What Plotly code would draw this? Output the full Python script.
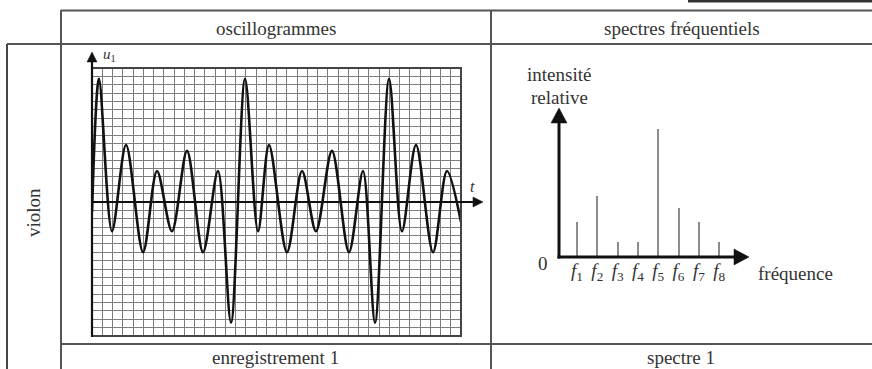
import plotly.graph_objects as go

W, H = 872, 369

# ---- oscillogram of u1 (in grid divisions: 36 across, 32 high) ----
t_div = [0.0, 0.68, 1.95, 3.32, 4.98, 6.34, 7.80, 9.27, 10.83, 12.29, 13.56,
         14.93, 16.20, 17.27, 19.02, 20.49, 21.85, 23.41, 25.07, 26.44, 27.61,
         28.98, 30.24, 31.61, 33.27, 34.63, 36.0]
u_div = [-1.2, 14.7, -3.5, 6.8, -6.0, 3.7, -3.5, 6.1, -6.0, 3.7, -14.4,
         14.7, -3.5, 6.8, -6.0, 3.7, -3.5, 6.1, -6.0, 3.7, -14.4,
         14.7, -3.5, 6.8, -6.0, 3.7, -2.4]

# ---- frequency spectrum ----
harmonic_pos = [1, 2, 3, 4, 5, 6, 7, 8]
harmonic_labels = ["<i>f</i><sub>%d</sub>" % k for k in harmonic_pos]
intensity = [0.27, 0.48, 0.12, 0.12, 1.0, 0.38, 0.27, 0.12]

SERIF = "Liberation Serif"
TXT = "#333333"
INK = "#111111"


def px(x):
    return x / W


def py(y):
    return 1 - y / H


fig = go.Figure()

fig.add_trace(go.Scatter(
    x=t_div, y=u_div, mode="lines",
    line=dict(color=INK, width=2.6, shape="spline", smoothing=0.9),
    xaxis="x", yaxis="y", hoverinfo="skip", showlegend=False))

fig.add_trace(go.Bar(
    x=harmonic_pos, y=intensity, width=0.1,
    marker=dict(color="#8c8c8c", line=dict(width=0)),
    xaxis="x2", yaxis="y2", hoverinfo="skip", showlegend=False))

grid_axis = dict(showgrid=True, gridcolor="#7e7e7e", gridwidth=1.4,
                 dtick=1, tick0=0, showticklabels=False, ticks="",
                 zeroline=False, showline=False, fixedrange=True)

fig.update_layout(
    width=W, height=H, margin=dict(l=0, r=0, t=0, b=0),
    paper_bgcolor="white", plot_bgcolor="white",
    xaxis=dict(domain=[px(92), px(461)], range=[0, 36], **grid_axis),
    yaxis=dict(domain=[py(336), py(68)], range=[-16, 16], **grid_axis),
    xaxis2=dict(domain=[px(559), px(747)], range=[0.113, 9.37],
                anchor="y2", showgrid=False, zeroline=False, showline=False,
                tickvals=harmonic_pos, ticktext=harmonic_labels, ticks="",
                tickfont=dict(family=SERIF, size=19, color=TXT),
                fixedrange=True),
    yaxis2=dict(domain=[py(257), py(110)], range=[0, 1.148],
                anchor="x2", showgrid=False, zeroline=False, showline=False,
                showticklabels=False, ticks="", fixedrange=True),
    bargap=0,
)

shapes = []


def seg(x0, y0, x1, y1, color="#555555", width=2):
    shapes.append(dict(type="line", xref="paper", yref="paper",
                       x0=px(x0), x1=px(x1), y0=py(y0), y1=py(y1),
                       line=dict(color=color, width=width)))


def head(x_tip, y_tip, direction, length, half):
    # filled triangular arrow head pointing "up" or "right"
    if direction == "up":
        pts = [(x_tip, y_tip), (x_tip - half, y_tip + length),
               (x_tip + half, y_tip + length)]
    else:
        pts = [(x_tip, y_tip), (x_tip - length, y_tip - half),
               (x_tip - length, y_tip + half)]
    path = "M " + " L ".join("%.5f,%.5f" % (px(a), py(b)) for a, b in pts) + " Z"
    shapes.append(dict(type="path", xref="paper", yref="paper", path=path,
                       fillcolor=INK, line=dict(color=INK, width=0.5)))


# table rules
seg(688, 1, 872, 1, color="#333333", width=3)
seg(61, 10.5, 872, 10.5)
seg(7, 44, 872, 44)
seg(61, 344, 872, 344)
seg(7, 44, 7, 369, color="#444444")
seg(61, 10, 61, 369)
seg(491, 10, 491, 369)

# frame of the oscillogram grid
shapes.append(dict(type="rect", xref="paper", yref="paper",
                   x0=px(92), x1=px(461), y0=py(336), y1=py(68),
                   line=dict(color="#444444", width=2)))

# oscillogram axes
seg(92, 337, 92, 60, color=INK, width=2.2)
head(92, 52, "up", 10, 5)
seg(91, 202, 474, 202, color=INK, width=2.2)
head(483, 202, "right", 10, 5)

# spectrum axes
seg(559, 258.5, 559, 120, color=INK, width=3)
head(559, 108, "up", 15, 8)
seg(557.5, 257, 736, 257, color=INK, width=3)
head(749, 257, "right", 15, 8)

fig.update_layout(shapes=shapes)

ann = []


def label(x, y, text, size=19, angle=0, color=TXT):
    ann.append(dict(xref="paper", yref="paper", x=px(x), y=py(y),
                    text=text, showarrow=False, textangle=angle,
                    xanchor="center", yanchor="middle",
                    font=dict(family=SERIF, size=size, color=color)))


label(109, 55, "<i>u</i><sub>1</sub>", size=15)
label(472, 186, "<i>t</i>", size=16)

label(543, 263, "0", size=19)
label(559, 74, "intensité", size=19)
label(559, 97, "relative", size=19)
label(795, 273, "fréquence", size=19)

# table texts
label(276, 29, "oscillogrammes", size=19)
label(682, 29, "spectres fréquentiels", size=19)
label(33, 213, "violon", size=19, angle=-90)
label(275, 357, "enregistrement 1", size=19)
label(681, 357, "spectre 1", size=19)

fig.update_layout(annotations=ann)

fig.write_html("out.html")
